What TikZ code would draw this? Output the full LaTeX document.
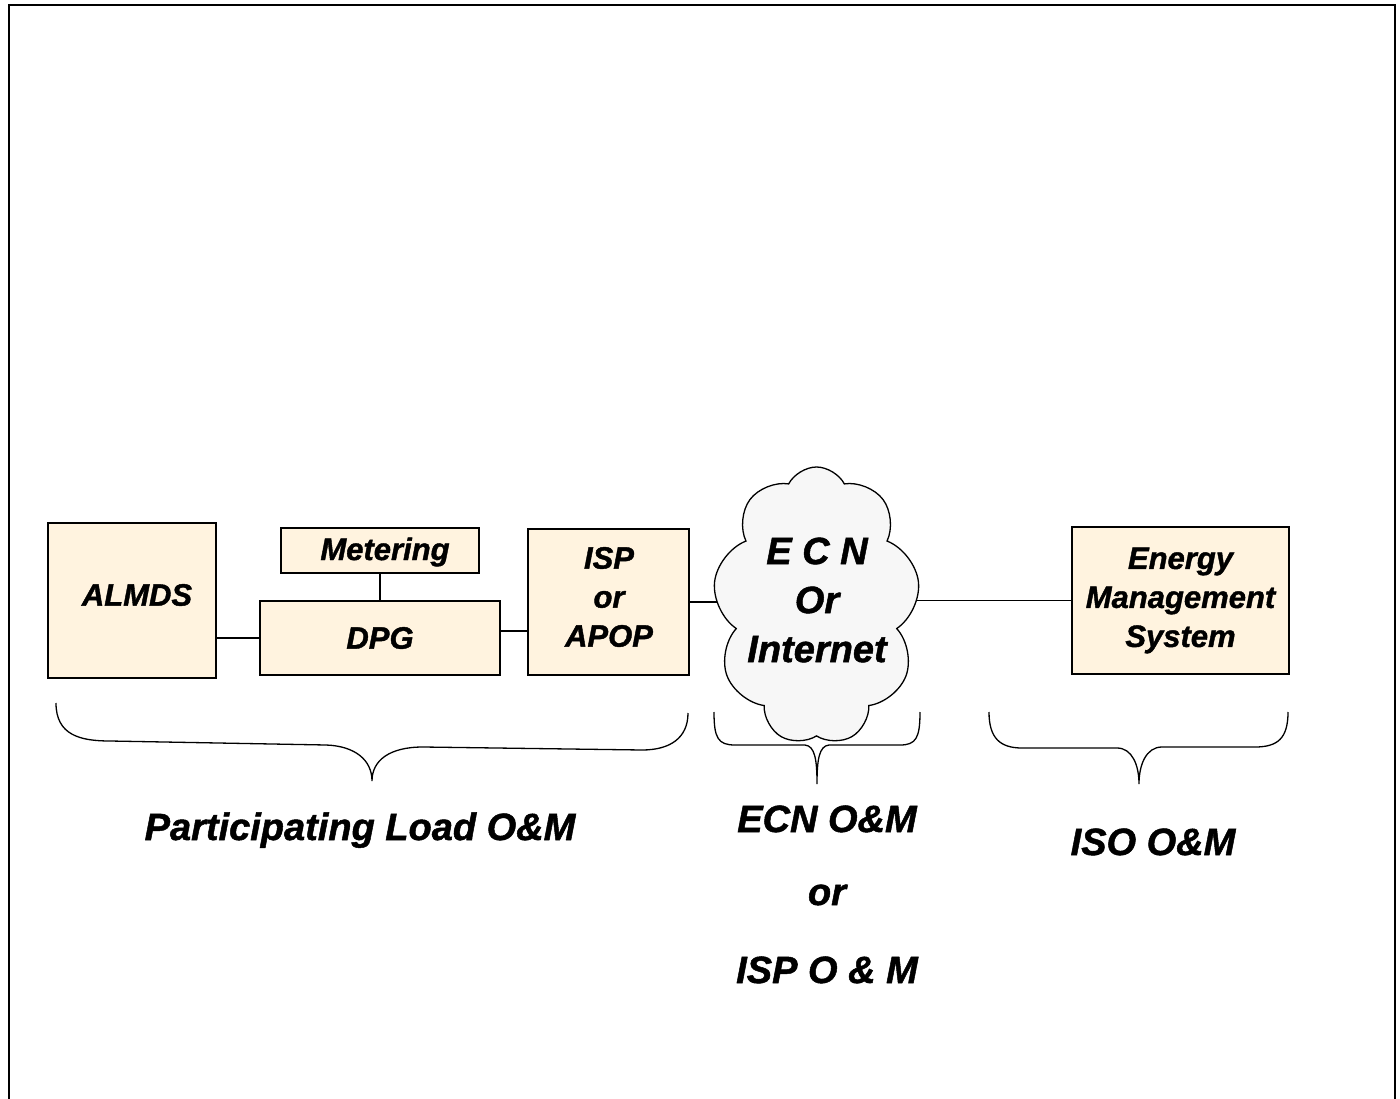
\documentclass[tikz,border=0pt]{standalone}
\usepackage{fontspec}
\setmainfont[BoldItalicFeatures={FakeBold=1.3}]{Liberation Sans}
\usetikzlibrary{shapes.symbols}
\definecolor{boxfill}{HTML}{FFF3DF}
\definecolor{cloudfill}{HTML}{F7F7F7}
\newcommand\myboxfont{\fontsize{31}{39}\selectfont\bfseries\itshape}
\newcommand\mylblfont{\fontsize{38}{46}\selectfont\bfseries\itshape}
\newcommand\mycloudfont{\fontsize{38}{49}\selectfont\bfseries\itshape}
\begin{document}
\begin{tikzpicture}[x=1pt,y=-1pt,
  box/.style={draw, line width=1.3pt, fill=boxfill, inner sep=0pt, font=\myboxfont, align=center},
  conn/.style={line width=1.3pt},
  bracepath/.style={line width=1.3pt},
  lbl/.style={font=\mylblfont, inner sep=0pt, anchor=base},
  frameline/.style={line width=2pt}]
\useasboundingbox (0,0) rectangle (1400,1099);
% frame
\draw[frameline] (9,1099) -- (9,5) -- (1395,5) -- (1395,1099);
% boxes
\node[box, minimum width=168pt, minimum height=155pt] (almds) at (132,600.5) {};
\node[font=\myboxfont, inner sep=0pt] (almdstext) at (137,595) {ALMDS};
\node[box, minimum width=198pt, minimum height=45pt] (metering) at (380,550.5) {};
\node[font=\myboxfont, inner sep=0pt] (meteringtext) at (385,552) {Metering};
\node[box, minimum width=240pt, minimum height=74pt] (dpg) at (380,638) {DPG};
\node[box, minimum width=161pt, minimum height=146pt] (isp) at (608.5,602) {};
\node[font=\myboxfont, inner sep=0pt, align=center] (isptext) at (609,597) {ISP\\or\\APOP};
\node[box, minimum width=217pt, minimum height=147pt] (ems) at (1180.5,600.5) {Energy\\Management\\System};
% cloud
\node[cloud, draw, line width=1.3pt, fill=cloudfill, cloud puffs=9, cloud puff arc=125,
      cloud ignores aspect, minimum width=207pt, minimum height=278pt, inner sep=0pt] (cloud) at (816.5,606) {};
\node[font=\mycloudfont, align=center, inner sep=0pt] (cloudtext) at (817,600) {E C N\\Or\\Internet};
% connectors
\draw[conn] (dpg.west) -- (dpg.west -| almds.east);
\draw[conn] (metering.south) -- (metering.south |- dpg.north);
\draw[conn] ([yshift=7pt]dpg.east) -- ([yshift=7pt]dpg.east -| isp.west);
\draw[conn] (isp.east) -- (isp.east -| cloud.west);
\draw[conn] (cloud.east |- ems.west) -- (ems.west);
% braces
\draw[bracepath] (56,703) .. controls (56,735) and (80,741) .. (110,741) -- (326,745)
  .. controls (355,746) and (372,760) .. (372,781)
  .. controls (372,760) and (390,747) .. (423,747) -- (642,750)
  .. controls (670,750) and (688,738) .. (688,713);
\draw[bracepath] (714,712) .. controls (714,738) and (718,745) .. (735,745) -- (805,745)
  .. controls (815,746) and (817,760) .. (817,784)
  .. controls (817,760) and (819,746) .. (829,745) -- (900,745)
  .. controls (916,745) and (920,738) .. (920,712);
\draw[bracepath] (989,712) .. controls (989,738) and (1000,748) .. (1022,748) -- (1117,748)
  .. controls (1132,748) and (1139,765) .. (1139,784)
  .. controls (1139,765) and (1146,747) .. (1162,747) -- (1255,747)
  .. controls (1278,747) and (1288,738) .. (1288,712);
% labels
\node[lbl] (plom) at (360,840) {Participating Load O\&M};
\node[lbl] (ecnom) at (827,832) {ECN O\&M};
\node[lbl] (ortext) at (827,905) {or};
\node[lbl] (ispom) at (827,983) {ISP O \& M};
\node[lbl] (isoom) at (1153,855) {ISO O\&M};
\end{tikzpicture}
\end{document}
